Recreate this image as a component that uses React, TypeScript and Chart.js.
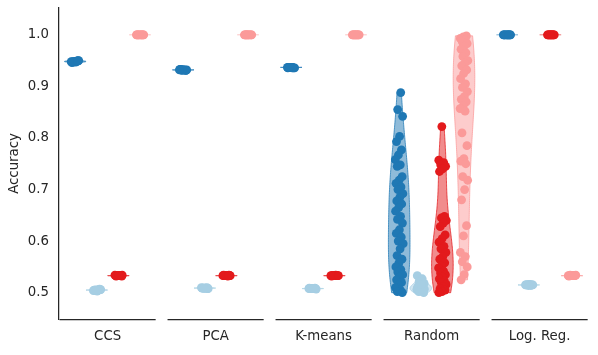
import React, { useEffect, useRef } from "react";
import { Chart, registerables } from "chart.js";
Chart.register(...registerables);

const categories = ["CCS", "PCA", "K-means", "Random", "Log. Reg."];
const hueColors = ["#1f78b4", "#a6cee3", "#e31a1c", "#fb9a99"];
const hueOffsets = [-0.3, -0.1, 0.1, 0.3];
const yTicks = [0.5, 0.6, 0.7, 0.8, 0.9, 1.0];

// CCS
const ccsDark = [0.948, 0.949, 0.947, 0.95, 0.948, 0.946, 0.949, 0.948, 0.95, 0.947, 0.948, 0.949];
const ccsLight = [0.505, 0.506, 0.504, 0.505, 0.507, 0.505, 0.504, 0.506, 0.505, 0.506, 0.503, 0.505];
const ccsRed = [0.533, 0.533, 0.534, 0.533, 0.532, 0.533, 0.533, 0.534, 0.533, 0.533, 0.532, 0.533];
const ccsPink = [1.0, 1.0, 1.0, 1.0, 1.0, 1.0, 1.0, 1.0, 1.0, 1.0, 1.0, 1.0];
// PCA
const pcaDark = [0.932, 0.931, 0.932, 0.933, 0.932, 0.931, 0.932, 0.932, 0.933, 0.931, 0.932, 0.932];
const pcaLight = [0.509, 0.509, 0.508, 0.509, 0.51, 0.509, 0.509, 0.508, 0.509, 0.509, 0.51, 0.509];
const pcaRed = [0.533, 0.533, 0.533, 0.534, 0.533, 0.533, 0.532, 0.533, 0.533, 0.533, 0.534, 0.533];
const pcaPink = [1.0, 1.0, 1.0, 1.0, 1.0, 1.0, 1.0, 1.0, 1.0, 1.0, 1.0, 1.0];
// K-means
const kmDark = [0.937, 0.936, 0.937, 0.937, 0.936, 0.937, 0.937, 0.936, 0.937, 0.937, 0.936, 0.937];
const kmLight = [0.508, 0.508, 0.509, 0.508, 0.508, 0.507, 0.508, 0.508, 0.509, 0.508, 0.508, 0.508];
const kmRed = [0.533, 0.533, 0.533, 0.533, 0.534, 0.533, 0.533, 0.533, 0.532, 0.533, 0.533, 0.533];
const kmPink = [1.0, 1.0, 1.0, 1.0, 1.0, 1.0, 1.0, 1.0, 1.0, 1.0, 1.0, 1.0];
// Random
const rndDark = [0.888, 0.855, 0.842, 0.803, 0.793, 0.777, 0.767, 0.758, 0.748, 0.745, 0.725, 0.718, 0.712, 0.705, 0.7, 0.692, 0.685, 0.678, 0.672, 0.665, 0.658, 0.648, 0.642, 0.635, 0.622, 0.615, 0.608, 0.6, 0.595, 0.585, 0.572, 0.565, 0.558, 0.55, 0.545, 0.54, 0.535, 0.53, 0.525, 0.52, 0.515, 0.51, 0.505, 0.502, 0.5];
const rndLight = [0.533, 0.527, 0.522, 0.518, 0.515, 0.512, 0.51, 0.508, 0.506, 0.504, 0.502, 0.5, 0.505, 0.51, 0.513, 0.503, 0.507, 0.516];
const rndRed = [0.822, 0.757, 0.752, 0.748, 0.745, 0.74, 0.735, 0.648, 0.645, 0.64, 0.635, 0.628, 0.612, 0.605, 0.598, 0.59, 0.585, 0.578, 0.57, 0.565, 0.558, 0.552, 0.548, 0.542, 0.538, 0.535, 0.53, 0.527, 0.523, 0.52, 0.516, 0.512, 0.508, 0.505, 0.502, 0.5];
const rndPink = [0.998, 0.996, 0.993, 0.99, 0.987, 0.983, 0.978, 0.972, 0.965, 0.958, 0.95, 0.945, 0.94, 0.932, 0.925, 0.915, 0.905, 0.898, 0.89, 0.88, 0.875, 0.87, 0.862, 0.857, 0.852, 0.81, 0.785, 0.76, 0.755, 0.75, 0.725, 0.718, 0.7, 0.68, 0.63, 0.61, 0.578, 0.57, 0.56, 0.55, 0.535, 0.525];
// Log. Reg.
const lrDark = [1.0, 1.0, 1.0, 1.0, 1.0, 1.0, 1.0, 1.0, 1.0, 1.0, 1.0, 1.0];
const lrLight = [0.515, 0.515, 0.516, 0.515, 0.514, 0.515, 0.515, 0.516, 0.515, 0.515, 0.514, 0.515];
const lrRed = [1.0, 1.0, 1.0, 1.0, 1.0, 1.0, 1.0, 1.0, 1.0, 1.0, 1.0, 1.0];
const lrPink = [0.533, 0.533, 0.534, 0.533, 0.533, 0.532, 0.533, 0.533, 0.534, 0.533, 0.533, 0.533];

const groups: number[][][] = [
  [ccsDark, ccsLight, ccsRed, ccsPink],
  [pcaDark, pcaLight, pcaRed, pcaPink],
  [kmDark, kmLight, kmRed, kmPink],
  [rndDark, rndLight, rndRed, rndPink],
  [lrDark, lrLight, lrRed, lrPink],
];

const TEXT = "#262626";
const FONT = "'DejaVu Sans', sans-serif";
const JITTER = 0.037;
const HALF_W = 0.1;

function rgba(hex: string, a: number) {
  const n = parseInt(hex.slice(1), 16);
  return `rgba(${(n >> 16) & 255},${(n >> 8) & 255},${n & 255},${a})`;
}

function jitter(i: number, phase: number) {
  const f = (i * 0.6180339887 + phase) % 1;
  return (f * 2 - 1) * JITTER;
}

const violinPlugin = {
  id: "violins",
  beforeDatasetsDraw(chart: any) {
    const { ctx } = chart;
    const xs = chart.scales.x;
    const ys = chart.scales.y;
    groups.forEach((hues, ci) => {
      hues.forEach((vals, hi) => {
        const xc = ci + hueOffsets[hi];
        const n = vals.length;
        const mean = vals.reduce((a, b) => a + b, 0) / n;
        const sd = Math.sqrt(vals.reduce((a, b) => a + (b - mean) * (b - mean), 0) / (n - 1));
        const col = hueColors[hi];
        ctx.save();
        if (sd < 1e-9) {
          ctx.strokeStyle = rgba(col, 0.6);
          ctx.lineWidth = 1;
          ctx.beginPath();
          ctx.moveTo(xs.getPixelForValue(xc - HALF_W), ys.getPixelForValue(mean));
          ctx.lineTo(xs.getPixelForValue(xc + HALF_W), ys.getPixelForValue(mean));
          ctx.stroke();
        } else {
          const bw = sd * Math.pow(n, -0.2) * 1.3;
          const lo = Math.min(...vals);
          const hiV = Math.max(...vals);
          const steps = 120;
          const grid: number[] = [];
          const dens: number[] = [];
          for (let k = 0; k <= steps; k++) {
            const v = lo + ((hiV - lo) * k) / steps;
            let d = 0;
            for (const s of vals) {
              const z = (v - s) / bw;
              d += Math.exp(-0.5 * z * z);
            }
            grid.push(v);
            dens.push(d);
          }
          const dmax = Math.max(...dens);
          ctx.beginPath();
          for (let k = 0; k <= steps; k++) {
            const px = xs.getPixelForValue(xc - (HALF_W * dens[k]) / dmax);
            const py = ys.getPixelForValue(grid[k]);
            if (k === 0) ctx.moveTo(px, py);
            else ctx.lineTo(px, py);
          }
          for (let k = steps; k >= 0; k--) {
            const px = xs.getPixelForValue(xc + (HALF_W * dens[k]) / dmax);
            const py = ys.getPixelForValue(grid[k]);
            ctx.lineTo(px, py);
          }
          ctx.closePath();
          ctx.fillStyle = rgba(col, 0.5);
          ctx.fill();
          ctx.strokeStyle = rgba(col, 0.75);
          ctx.lineWidth = 1;
          ctx.stroke();
        }
        ctx.restore();
      });
    });
  },
  afterDraw(chart: any) {
    const { ctx, chartArea } = chart;
    const xs = chart.scales.x;
    ctx.save();
    ctx.strokeStyle = TEXT;
    ctx.lineWidth = 1.25;
    categories.forEach((_, i) => {
      ctx.beginPath();
      ctx.moveTo(xs.getPixelForValue(i - 0.445), chartArea.bottom + 0.5);
      ctx.lineTo(xs.getPixelForValue(i + 0.445), chartArea.bottom + 0.5);
      ctx.stroke();
    });
    ctx.restore();
  },
};

export default function App() {
  const ref = useRef<HTMLCanvasElement>(null);
  useEffect(() => {
    if (!ref.current) return;
    const datasets: any[] = [];
    hueColors.forEach((col, hi) => {
      const data: { x: number; y: number }[] = [];
      groups.forEach((hues, ci) => {
        hues[hi].forEach((v, i) => {
          data.push({ x: ci + hueOffsets[hi] + jitter(i, ci * 0.23 + hi * 0.37), y: v });
        });
      });
      datasets.push({
        data,
        backgroundColor: col,
        borderWidth: 0,
        pointRadius: 4.4,
        pointHoverRadius: 4.4,
      });
    });
    const chart = new Chart(ref.current, {
      type: "scatter",
      data: { datasets },
      plugins: [violinPlugin],
      options: {
        animation: false,
        responsive: true,
        maintainAspectRatio: false,
        devicePixelRatio: 1,
        layout: { padding: { top: 8, right: 4, left: 0, bottom: 0 } },
        plugins: { legend: { display: false }, tooltip: { enabled: false } },
        scales: {
          x: {
            type: "linear",
            min: -0.45,
            max: 4.5,
            grid: { display: false, drawTicks: false },
            border: { display: false },
            afterBuildTicks: (s: any) => {
              s.ticks = categories.map((_, i) => ({ value: i }));
            },
            afterFit: (s: any) => {
              s.height = 36;
              s.paddingLeft = 0;
              s.paddingRight = 0;
              s.paddingTop = 0;
              s.paddingBottom = 0;
            },
            ticks: {
              padding: 10,
              color: TEXT,
              font: { family: FONT, size: 13.3 },
              maxRotation: 0,
              autoSkip: false,
              callback: (v: any) => categories[Math.round(Number(v))] ?? "",
            },
          },
          y: {
            min: 0.449,
            max: 1.052,
            grid: { display: false, drawTicks: false },
            border: { display: true, color: TEXT, width: 1.25 },
            afterBuildTicks: (s: any) => {
              s.ticks = yTicks.map((v) => ({ value: v }));
            },
            afterFit: (s: any) => {
              s.width = 59;
              s.paddingTop = 0;
              s.paddingBottom = 0;
              s.paddingLeft = 0;
              s.paddingRight = 0;
            },
            title: {
              display: true,
              text: "Accuracy",
              color: TEXT,
              font: { family: FONT, size: 13.3 },
              padding: { top: 7, bottom: 0 },
            },
            ticks: {
              padding: 10,
              color: TEXT,
              font: { family: FONT, size: 13.3 },
              callback: (v: any) => Number(v).toFixed(1),
            },
          },
        },
      },
    });
    return () => chart.destroy();
  }, []);
  return (
    <div style={{ position: "fixed", left: 0, top: 0, width: 598, height: 355, background: "#fff" }}>
      <canvas ref={ref} />
    </div>
  );
}
